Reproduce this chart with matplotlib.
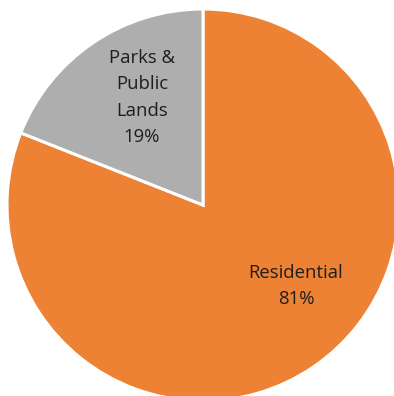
import matplotlib
matplotlib.use("Agg")
import matplotlib.pyplot as plt
import numpy as np

categories = ["Residential", "Parks &\nPublic\nLands"]
values = [81, 19]
colors = ["#EE8234", "#AEAEAE"]

W, H = 394, 396
fig = plt.figure(figsize=(W / 100, H / 100), dpi=100)
ax = fig.add_axes([0, 0, 1, 1])

cx, cy, r = 203, H - 205, 196
wedges, _ = ax.pie(values, colors=colors, startangle=90, counterclock=False,
                   center=(cx, cy), radius=r, frame=True,
                   wedgeprops=dict(edgecolor="white", linewidth=2.2))
ax.set_xlim(0, W)
ax.set_ylim(0, H)
ax.set_aspect("equal")
ax.axis("off")

# label positions (polar, relative to pie centre)
label_pos = [(-41, 0.629), (119.6, 0.63)]
for cat, val, (ang, d) in zip(categories, values, label_pos):
    x = cx + d * r * np.cos(np.radians(ang))
    y = cy + d * r * np.sin(np.radians(ang))
    ax.text(x, y, f"{cat}\n{val}%", ha="center", va="center",
            fontsize=13.3, color="#1e1e1e", family="Open Sans",
            linespacing=1.6)

fig.savefig("out.png", dpi=100)
